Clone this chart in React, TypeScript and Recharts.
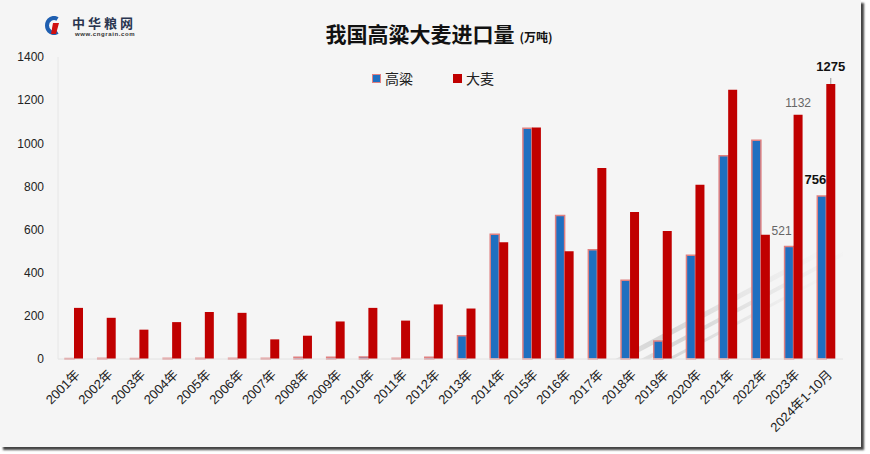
import React from "react";
import { Bar, BarChart, LabelList, XAxis, YAxis } from "recharts";

const years = [
  "2001年", "2002年", "2003年", "2004年", "2005年", "2006年", "2007年", "2008年",
  "2009年", "2010年", "2011年", "2012年", "2013年", "2014年", "2015年", "2016年",
  "2017年", "2018年", "2019年", "2020年", "2021年", "2022年", "2023年", "2024年1-10月",
];
const sorghum = [2, 3, 2, 3, 3, 3, 3, 8, 8, 9, 3, 8, 108, 578, 1070, 665, 506, 365, 83, 481, 942, 1014, 521, 756];
const barley = [237, 191, 136, 171, 218, 214, 91, 108, 174, 237, 178, 253, 234, 541, 1073, 500, 886, 682, 593, 808, 1248, 576, 1132, 1275];
const yTicks = [0, 200, 400, 600, 800, 1000, 1200, 1400];

const data = years.map((year, i) => ({ year, sorghum: sorghum[i], barley: barley[i] }));

const FONT = "'Liberation Sans', Arial, 'Noto Sans CJK SC', sans-serif";
const CJK = "'Noto Sans CJK SC', 'Liberation Sans', sans-serif";

function XTick({ x, y, payload }: any) {
  return (
    <text x={x + 4} y={y + 6} transform={`rotate(-45 ${x + 4} ${y + 6})`} textAnchor="end" dominantBaseline="middle" fontSize={13} fill="#222" fontFamily={FONT}>
      {payload.value}
    </text>
  );
}

function SorghumLabel(props: any) {
  const { x, y, width, index, value } = props;
  if (index === 22)
    return (
      <text x={x + width - 2} y={y - 15} textAnchor="end" dominantBaseline="middle" fontSize={12} fill="#666" fontFamily={FONT}>
        {value}
      </text>
    );
  if (index === 23)
    return (
      <text x={x + width} y={y - 15} textAnchor="end" dominantBaseline="middle" fontSize={13} fontWeight="bold" fill="#111" fontFamily={FONT}>
        {value}
      </text>
    );
  return null;
}

function BarleyLabel(props: any) {
  const { x, y, width, index, value } = props;
  const cx = x + width / 2;
  if (index === 22)
    return (
      <text x={cx} y={y - 11} textAnchor="middle" dominantBaseline="middle" fontSize={12} fill="#666" fontFamily={FONT}>
        {value}
      </text>
    );
  if (index === 23)
    return (
      <g>
        <line x1={cx} y1={y - 6} x2={cx} y2={y} stroke="#999" />
        <text x={cx} y={y - 16} textAnchor="middle" dominantBaseline="middle" fontSize={13} fontWeight="bold" fill="#111" fontFamily={FONT}>
          {value}
        </text>
      </g>
    );
  return null;
}

function LegendItem({ fill, stroke, label, left }: { fill: string; stroke: string; label: string; left: number }) {
  return (
    <div style={{ position: "absolute", left, top: 69, display: "flex", alignItems: "center", height: 18 }}>
      <span style={{ width: 7, height: 7, background: fill, border: `1px solid ${stroke}`, marginRight: 4 }} />
      <span style={{ fontSize: 14, color: "#222", fontFamily: CJK }}>{label}</span>
    </div>
  );
}

export default function App() {
  return (
    <div style={{ position: "absolute", left: 0, top: 0, width: 870, height: 454, background: "#fff" }}>
      <div style={{ position: "absolute", left: 0, top: 0, width: 861, height: 447, background: "#f5f5f5", boxShadow: "3px 3px 2px #444" }} />
      {/* faint reflection streaks behind the bars, clipped to the plot */}
      <svg width={870} height={454} style={{ position: "absolute", left: 0, top: 0 }}>
        <defs>
          <linearGradient id="streak" x1="0" y1="0" x2="1" y2="0">
            <stop offset="0" stopColor="#ccc" stopOpacity={0} />
            <stop offset="0.5" stopColor="#bbb" stopOpacity={0.55} />
            <stop offset="1" stopColor="#ccc" stopOpacity={0} />
          </linearGradient>
          <clipPath id="plotClip">
            <rect x={58} y={57} width={785} height={302} />
          </clipPath>
        </defs>
        <g clipPath="url(#plotClip)">
          <g transform="rotate(-28 650 335)">
            <rect x={470} y={340} width={380} height={5} fill="url(#streak)" />
            <rect x={490} y={352} width={380} height={4} fill="url(#streak)" />
            <rect x={460} y={364} width={380} height={3} fill="url(#streak)" />
          </g>
        </g>
      </svg>
      <div style={{ position: "absolute", left: 44, top: 16 }}>
        <svg width={16} height={19}>
          <path d="M13.5 3 A7 7.5 0 1 0 13.5 16" fill="none" stroke="#1f5fb0" strokeWidth={4} />
          <path d="M9 7 L15 7 L12 18 L7 18 Z" fill="#d01010" />
        </svg>
      </div>
      <div style={{ position: "absolute", left: 72, top: 15, fontSize: 13, fontWeight: "bold", color: "#2a3550", fontFamily: CJK, lineHeight: "15px", letterSpacing: 3 }}>中华粮网</div>
      <div style={{ position: "absolute", left: 75, top: 31, fontSize: 6, fontWeight: "bold", color: "#333", fontFamily: FONT, lineHeight: "6px", letterSpacing: 0.6 }}>www.cngrain.com</div>
      <div style={{ position: "absolute", left: 0, top: 20, width: 870, textAlign: "center", fontFamily: CJK, color: "#111", lineHeight: "26px", paddingLeft: 4 }}>
        <span style={{ fontSize: 21, fontWeight: "bold" }}>我国高粱大麦进口量</span>
        <span style={{ fontSize: 12, fontWeight: "bold", marginLeft: 5 }}>(万吨)</span>
      </div>
      <LegendItem fill="#1f6fc0" stroke="#e08080" label="高粱" left={372} />
      <LegendItem fill="#c00000" stroke="#c00000" label="大麦" left={453} />
      <BarChart width={870} height={454} data={data} margin={{ top: 57, right: 27, bottom: 0, left: 0 }} barGap={0} barSize={9} style={{ position: "absolute", left: 0, top: 0 }}>
        <XAxis dataKey="year" interval={0} height={95} tick={<XTick />} tickLine={false} axisLine={{ stroke: "#e2e2e2" }} />
        <YAxis domain={[0, 1400]} ticks={yTicks} width={58} tickLine={false} axisLine={{ stroke: "#e6e6e6" }} tickMargin={8} tick={{ fontSize: 12, fill: "#222", fontFamily: FONT }} />
        <Bar dataKey="sorghum" name="高粱" fill="#1f6fc0" stroke="#e08080" strokeWidth={1.5} isAnimationActive={false}>
          <LabelList dataKey="sorghum" content={<SorghumLabel />} />
        </Bar>
        <Bar dataKey="barley" name="大麦" fill="#c00000" isAnimationActive={false}>
          <LabelList dataKey="barley" content={<BarleyLabel />} />
        </Bar>
      </BarChart>
    </div>
  );
}
